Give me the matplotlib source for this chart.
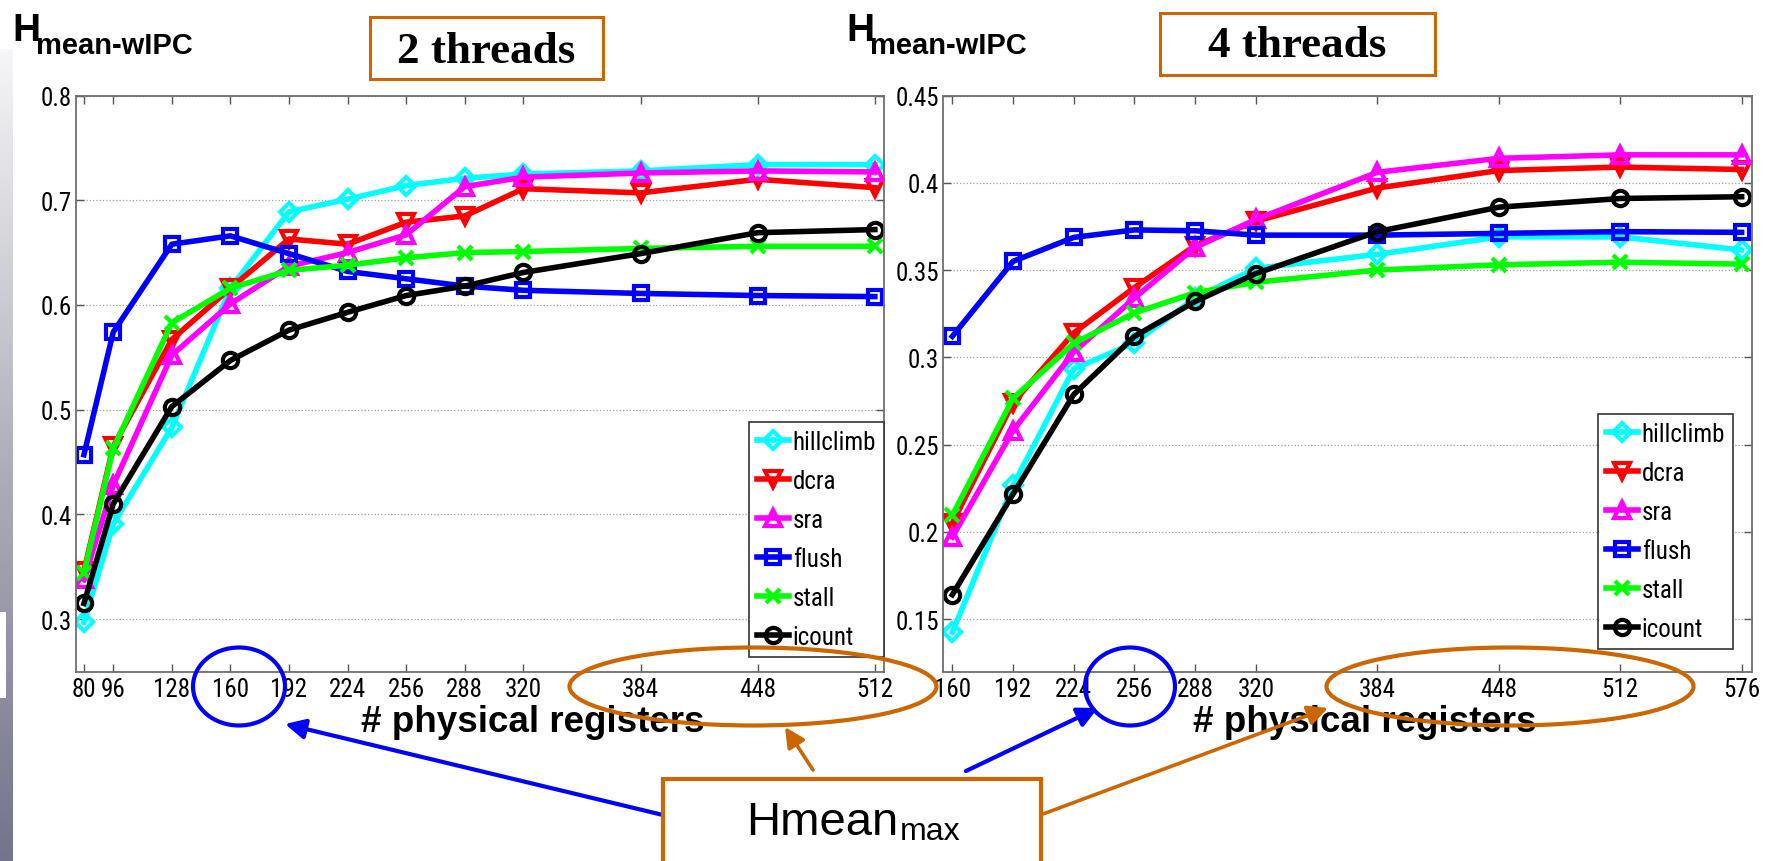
import matplotlib
matplotlib.use('Agg')
import matplotlib.pyplot as plt
from matplotlib import font_manager
from matplotlib.patches import Ellipse, Rectangle, FancyArrowPatch
import numpy as np

# register file sizes swept for each configuration
regs_2t = [80, 96, 128, 160, 192, 224, 256, 288, 320, 384, 448, 512]
regs_4t = [160, 192, 224, 256, 288, 320, 384, 448, 512, 576]

# harmonic mean of weighted IPC, 2 threads
hillclimb_2t = [0.297, 0.391, 0.483, 0.616, 0.689, 0.701, 0.714, 0.721, 0.725, 0.728, 0.734, 0.734]
dcra_2t = [0.346, 0.465, 0.567, 0.616, 0.663, 0.658, 0.679, 0.685, 0.711, 0.707, 0.720, 0.712]
sra_2t = [0.338, 0.428, 0.552, 0.601, 0.637, 0.650, 0.667, 0.713, 0.722, 0.726, 0.728, 0.727]
flush_2t = [0.457, 0.574, 0.658, 0.666, 0.649, 0.632, 0.625, 0.618, 0.614, 0.611, 0.609, 0.608]
stall_2t = [0.344, 0.463, 0.583, 0.616, 0.633, 0.638, 0.645, 0.650, 0.651, 0.654, 0.656, 0.656]
icount_2t = [0.315, 0.410, 0.503, 0.547, 0.576, 0.593, 0.609, 0.618, 0.631, 0.649, 0.669, 0.672]

# harmonic mean of weighted IPC, 4 threads
hillclimb_4t = [0.1425, 0.2266, 0.2934, 0.3083, 0.334, 0.351, 0.359, 0.369, 0.369, 0.3615]
dcra_4t = [0.205, 0.274, 0.314, 0.340, 0.364, 0.378, 0.397, 0.407, 0.409, 0.4076]
sra_4t = [0.197, 0.258, 0.303, 0.334, 0.363, 0.379, 0.406, 0.414, 0.416, 0.416]
flush_4t = [0.312, 0.355, 0.3687, 0.373, 0.3725, 0.370, 0.370, 0.371, 0.372, 0.3716]
stall_4t = [0.2095, 0.2765, 0.308, 0.3255, 0.337, 0.343, 0.350, 0.353, 0.3545, 0.3534]
icount_4t = [0.164, 0.2216, 0.2787, 0.312, 0.332, 0.348, 0.372, 0.386, 0.391, 0.392]

yticks_2t = [0.3, 0.4, 0.5, 0.6, 0.7, 0.8]
ytick_labels_2t = ['0.3', '0.4', '0.5', '0.6', '0.7', '0.8']
yticks_4t = [0.15, 0.2, 0.25, 0.3, 0.35, 0.4, 0.45]
ytick_labels_4t = ['0.15', '0.2', '0.25', '0.3', '0.35', '0.4', '0.45']

# name, colour, marker, marker size
styles = [('hillclimb', '#00FFFF', 'D', 9.5),
          ('dcra', '#FF0000', 'v', 12),
          ('sra', '#FF00FF', '^', 12),
          ('flush', '#0000FF', 's', 10.5),
          ('stall', '#00FF00', 'x', 9.5),
          ('icount', '#000000', 'o', 11)]

W, H = 1773, 862
ORANGE = '#CC6600'
BLUE = '#0000FF'

# narrow sans for tick labels / legend if there is one
installed = {f.name for f in font_manager.fontManager.ttflist}
TICKFONT = next((n for n in ['Liberation Sans Narrow', 'Arial Narrow', 'Roboto Condensed']
                 if n in installed), 'Liberation Sans')


def fx(x):
    return x / W


def fy(y):
    return 1 - y / H


fig = plt.figure(figsize=(W / 100, H / 100), dpi=100)

# slide edge on the left
strip = fig.add_axes([0, 0, fx(13), fy(50)])
grad = np.linspace(0, 1, 256)[:, None]
strip.imshow(grad, aspect='auto', cmap=matplotlib.colors.LinearSegmentedColormap.from_list(
    'edge', ['#74748a', '#b0b0bc', '#f6f6f8']), origin='lower')
strip.axis('off')
fig.add_artist(Rectangle((0, fy(699)), fx(6), (699 - 613) / H, transform=fig.transFigure,
                         fc='white', ec='none', zorder=2))


def draw_panel(left, right, regs, series, xlim, ylim, yticks, yticklabels, legend_xy):
    ax = fig.add_axes([fx(left), fy(672.5), (right - left) / W, (672.5 - 96.5) / H])
    for (name, color, marker, ms), vals in zip(styles, series):
        ax.plot(regs, vals, color=color, marker=marker, ms=ms, mfc='none', mec=color,
                mew=3.0, lw=4.0, label=name)
    ax.set_xlim(xlim)
    ax.set_ylim(ylim)
    ax.set_xticks(regs)
    ax.set_xticklabels([str(r) for r in regs])
    ax.set_yticks(yticks)
    ax.set_yticklabels(yticklabels)
    ax.set_axisbelow(True)
    ax.yaxis.grid(True, linestyle=':', color='#a0a0a0', lw=0.9)
    ax.tick_params(direction='in', top=True, right=True, length=6, width=1,
                   color='#555555', labelsize=18)
    ax.tick_params(axis='x', pad=4)
    ax.tick_params(axis='y', pad=3)
    for lab in ax.get_xticklabels() + ax.get_yticklabels():
        lab.set_family(TICKFONT)
    for s in ax.spines.values():
        s.set_color('#6e6e6e')
        s.set_linewidth(1.3)
    leg = ax.legend(loc='upper left', bbox_to_anchor=legend_xy, bbox_transform=fig.transFigure,
                    prop={'family': TICKFONT, 'size': 18}, numpoints=1, handlelength=1.28,
                    handletextpad=0.15, labelspacing=0.6, borderpad=0.32, borderaxespad=0,
                    fancybox=False, framealpha=1, edgecolor='#333333')
    leg.get_frame().set_linewidth(1.2)
    return ax


draw_panel(75.7, 884, regs_2t,
           [hillclimb_2t, dcra_2t, sra_2t, flush_2t, stall_2t, icount_2t],
           (75.5, 517), (0.25, 0.8), yticks_2t, ytick_labels_2t, (fx(749), fy(423)))
draw_panel(943.3, 1751.7, regs_4t,
           [hillclimb_4t, dcra_4t, sra_4t, flush_4t, stall_4t, icount_4t],
           (155.25, 581.3), (0.12, 0.45), yticks_4t, ytick_labels_4t, (fx(1598), fy(415)))

# metric name above each panel
for hx in (12, 846):
    fig.text(fx(hx), fy(41), 'H', fontsize=28, fontweight='bold', family='Liberation Sans',
             va='baseline', ha='left')
    fig.text(fx(hx + 24), fy(54), 'mean-wIPC', fontsize=21, fontweight='bold',
             family='Liberation Sans', va='baseline', ha='left')

# thread count boxes
for (x0, y0, x1, y1, label, base) in [(370, 18, 603, 80, '2 threads', 62.7),
                                      (1160, 14, 1435, 76, '4 threads', 56.7)]:
    fig.add_artist(Rectangle((fx(x0), fy(y1)), (x1 - x0) / W, (y1 - y0) / H,
                             transform=fig.transFigure, fc='white', ec=ORANGE, lw=2.2, zorder=4))
    fig.text(fx((x0 + x1) / 2), fy(base), label, fontsize=32.5, fontweight='bold',
             family='Liberation Serif', ha='center', va='baseline', zorder=5)

# x axis titles
for lx in (361, 1193):
    fig.text(fx(lx), fy(731.7), '# physical registers', fontsize=26.5, fontweight='bold',
             family='Liberation Sans', ha='left', va='baseline', zorder=3)


def ellipse(cx, cy, w, h, color):
    fig.add_artist(Ellipse((fx(cx), fy(cy)), w / W, h / H, transform=fig.transFigure,
                           fill=False, ec=color, lw=3.0, zorder=6))


def arrow(x0, y0, x1, y1, color, lw):
    fig.add_artist(FancyArrowPatch((fx(x0), fy(y0)), (fx(x1), fy(y1)), transform=fig.transFigure,
                                   arrowstyle='-|>,head_length=0.6,head_width=0.3',
                                   mutation_scale=20, color=color, lw=lw, zorder=6,
                                   shrinkA=0, shrinkB=0))


ellipse(239, 687.5, 92, 78, BLUE)
ellipse(1130, 687.5, 90, 78, BLUE)
ellipse(753, 687.5, 367, 78, ORANGE)
ellipse(1510, 687.5, 367, 78, ORANGE)

arrow(663, 816, 285, 725, BLUE, 3.0)
arrow(966, 772, 1098, 709, BLUE, 3.0)
arrow(813, 771, 785, 728, ORANGE, 2.6)
arrow(1043, 815, 1328, 709, ORANGE, 2.6)

fig.add_artist(Rectangle((fx(663), fy(880)), (1041 - 663) / W, (880 - 780) / H,
                         transform=fig.transFigure, fc='white', ec=ORANGE, lw=3.0, zorder=7))
fig.text(fx(746), fy(835), 'Hmean', fontsize=34, family='Liberation Sans',
         ha='left', va='baseline', zorder=8)
fig.text(fx(900), fy(840), 'max', fontsize=23, family='Liberation Sans',
         ha='left', va='baseline', zorder=8)

fig.savefig('out.png', dpi=100)
